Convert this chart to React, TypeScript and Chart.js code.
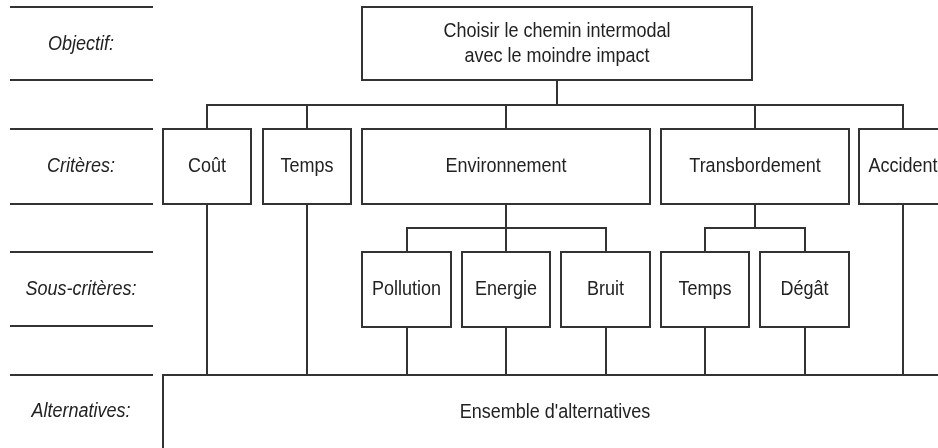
import React, { useEffect, useRef } from "react";
import { Chart, registerables } from "chart.js";

Chart.register(...registerables);

// Row labels on the left (diagram levels) and their vertical centres (data units)
const rowLabels = ["Objectif:", "Critères:", "Sous-critères:", "Alternatives:"];
const rowCenters = [44, 166, 289, 411];
// Horizontal separator lines of the left column
const separatorY = [7, 80, 129, 204, 252, 326, 375];

// Goal node
const goalLines = ["Choisir le chemin intermodal", "avec le moindre impact"];
const goalX = [362, 752];
const goalY = [7, 80];

// Criteria nodes
const criteriaLabels = ["Coût", "Temps", "Environnement", "Transbordement", "Accident"];
const criteriaX0 = [163, 263, 362, 661, 859];
const criteriaX1 = [251, 351, 650, 849, 947];
const criteriaY = [129, 204];
const criteriaBusY = 105;

// Sub-criteria nodes
const subLabels = ["Pollution", "Energie", "Bruit", "Temps", "Dégât"];
const subParent = [2, 2, 2, 3, 3];
const subX0 = [362, 462, 561, 661, 760];
const subX1 = [451, 550, 650, 749, 849];
const subY = [252, 327];
const subBusY = 228;

// Alternatives node
const altLabel = "Ensemble d'alternatives";
const altX = [163, 943];
const altY = [375, 470];

const FONT = "'Liberation Sans', Arial, sans-serif";

const diagramPlugin = {
  id: "hierarchy",
  afterDatasetsDraw(chart: any) {
    const ctx = chart.ctx as CanvasRenderingContext2D;
    const xs = chart.scales.x;
    const ys = chart.scales.y;
    const X = (v: number) => Math.round(xs.getPixelForValue(v));
    const Y = (v: number) => Math.round(ys.getPixelForValue(v));
    ctx.save();
    ctx.strokeStyle = "#333333";
    ctx.lineWidth = 2;
    ctx.lineCap = "butt";
    const line = (x0: number, y0: number, x1: number, y1: number) => {
      ctx.beginPath();
      ctx.moveTo(X(x0), Y(y0));
      ctx.lineTo(X(x1), Y(y1));
      ctx.stroke();
    };
    const box = (x0: number, x1: number, y0: number, y1: number) => {
      ctx.fillStyle = "#ffffff";
      ctx.fillRect(X(x0), Y(y0), X(x1) - X(x0), Y(y1) - Y(y0));
      ctx.strokeRect(X(x0), Y(y0), X(x1) - X(x0), Y(y1) - Y(y0));
    };
    const text = (s: string, x: number, y: number, italic = false) => {
      ctx.save();
      ctx.fillStyle = "#222222";
      ctx.font = `${italic ? "italic " : ""}18px ${FONT}`;
      ctx.textAlign = "center";
      ctx.textBaseline = "middle";
      ctx.translate(xs.getPixelForValue(x), ys.getPixelForValue(y));
      ctx.scale(1, 1.15);
      ctx.fillText(s, 0, 0);
      ctx.restore();
    };

    // left column
    separatorY.forEach((y) => line(10, y, 153, y));
    rowLabels.forEach((l, i) => text(l, 81, rowCenters[i], true));

    // connectors goal -> criteria
    const goalCx = (goalX[0] + goalX[1]) / 2;
    line(goalCx, goalY[1], goalCx, criteriaBusY);
    const cCx = criteriaX0.map((x0, i) => (x0 + criteriaX1[i]) / 2);
    line(cCx[0] - 1, criteriaBusY, cCx[cCx.length - 1] + 1, criteriaBusY);
    cCx.forEach((cx) => line(cx, criteriaBusY, cx, criteriaY[0]));

    // connectors criteria -> sub-criteria
    const sCx = subX0.map((x0, i) => (x0 + subX1[i]) / 2);
    const parents = Array.from(new Set(subParent));
    parents.forEach((p) => {
      const kids = sCx.filter((_, i) => subParent[i] === p);
      line(cCx[p], criteriaY[1], cCx[p], subBusY);
      line(Math.min(...kids) - 1, subBusY, Math.max(...kids) + 1, subBusY);
      kids.forEach((k) => line(k, subBusY, k, subY[0]));
    });

    // connectors to alternatives
    cCx.forEach((cx, i) => {
      if (!subParent.includes(i)) line(cx, criteriaY[1], cx, altY[0]);
    });
    sCx.forEach((cx) => line(cx, subY[1], cx, altY[0]));

    // boxes
    box(goalX[0], goalX[1], goalY[0], goalY[1]);
    text(goalLines[0], goalCx, 31);
    text(goalLines[1], goalCx, 56);

    criteriaLabels.forEach((l, i) => {
      box(criteriaX0[i], criteriaX1[i], criteriaY[0], criteriaY[1]);
      text(l, cCx[i], (criteriaY[0] + criteriaY[1]) / 2);
    });
    subLabels.forEach((l, i) => {
      box(subX0[i], subX1[i], subY[0], subY[1]);
      text(l, sCx[i], (subY[0] + subY[1]) / 2);
    });
    box(altX[0], altX[1], altY[0], altY[1]);
    text(altLabel, 555, 412);
    ctx.restore();
  },
};

export default function App() {
  const ref = useRef<HTMLCanvasElement | null>(null);
  useEffect(() => {
    if (!ref.current) return;
    const pts = [
      ...criteriaLabels.map((_, i) => ({ x: (criteriaX0[i] + criteriaX1[i]) / 2, y: (criteriaY[0] + criteriaY[1]) / 2 })),
      ...subLabels.map((_, i) => ({ x: (subX0[i] + subX1[i]) / 2, y: (subY[0] + subY[1]) / 2 })),
    ];
    const chart = new Chart(ref.current, {
      type: "scatter",
      data: { datasets: [{ data: pts, pointRadius: 0, showLine: false }] },
      options: {
        animation: false,
        responsive: false,
        layout: { padding: 0 },
        plugins: { legend: { display: false }, tooltip: { enabled: false } },
        scales: {
          x: { type: "linear", min: 0, max: 938, display: false },
          y: { type: "linear", min: 0, max: 448, reverse: true, display: false },
        },
      },
      plugins: [diagramPlugin],
    });
    return () => chart.destroy();
  }, []);
  return (
    <div style={{ position: "fixed", left: 0, top: 0, width: 938, height: 448, background: "#fff" }}>
      <canvas ref={ref} width={938} height={448} style={{ width: 938, height: 448 }} />
    </div>
  );
}
